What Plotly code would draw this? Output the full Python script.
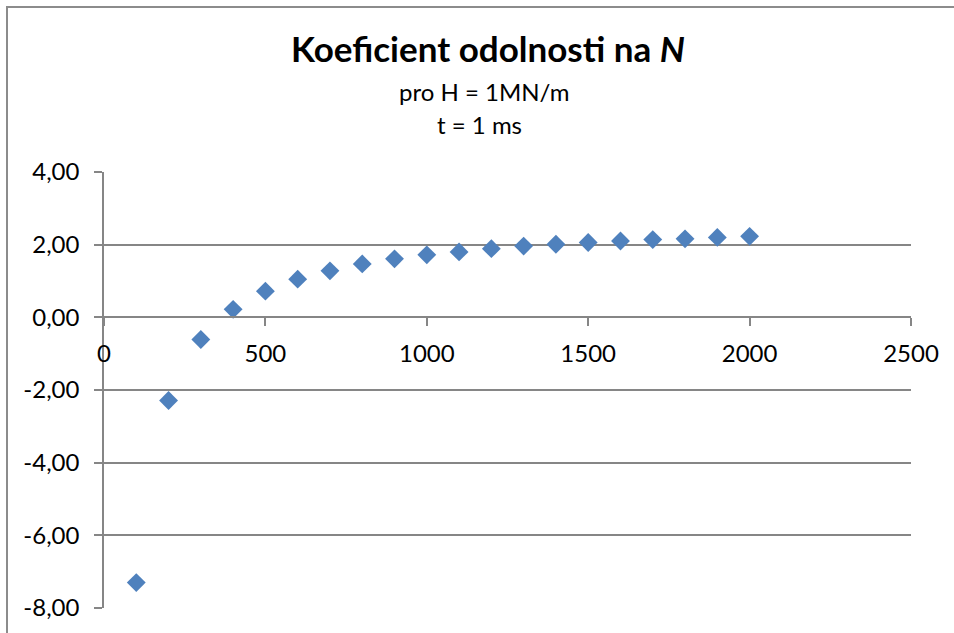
import plotly.graph_objects as go

# Data
n_values = [100, 200, 300, 400, 500, 600, 700, 800, 900, 1000,
            1100, 1200, 1300, 1400, 1500, 1600, 1700, 1800, 1900, 2000]
koeficient = [-7.30, -2.29, -0.61, 0.22, 0.72, 1.05, 1.28, 1.47, 1.61, 1.72,
              1.80, 1.89, 1.96, 2.01, 2.06, 2.10, 2.14, 2.16, 2.20, 2.23]

y_tick_values = [-8, -6, -4, -2, 0, 2, 4]
y_tick_labels = ["-8,00", "-6,00", "-4,00", "-2,00", "0,00", "2,00", "4,00"]

title_text = "<b>Koeficient odolnosti na <i>N</i></b>"
subtitle1 = "pro H = 1MN/m"
subtitle2 = "t = 1 ms"

x_range = [0, 2500]
y_range = [-8, 4]

W, H = 954, 633
ML, MR, MT, MB = 104, 43, 172, 25
PW = W - ML - MR
PH = H - MT - MB

def px_x(p):
    return (p - ML) / PW

def px_y(p):
    return (H - MB - p) / PH

GRAY = "#868686"
BLUE = "#4F81BD"
FONT = "Lato"

fig = go.Figure()
fig.add_trace(go.Scatter(
    x=n_values, y=koeficient, mode="markers",
    marker=dict(symbol="diamond", size=14.5, color=BLUE, line=dict(width=0)),
    showlegend=False, cliponaxis=False,
))

zero_pos = (0 - y_range[0]) / (y_range[1] - y_range[0])

fig.update_layout(
    width=W, height=H,
    margin=dict(l=ML, r=MR, t=MT, b=MB, pad=0),
    paper_bgcolor="white", plot_bgcolor="white",
    separators=",.",
    font=dict(family=FONT, size=24, color="black"),
    xaxis=dict(
        range=x_range, dtick=500, tick0=0, showgrid=False, zeroline=False,
        showline=True, linecolor=GRAY, linewidth=1.5,
        ticks="outside", ticklen=8, tickcolor=GRAY, tickwidth=1.5,
        anchor="free", position=zero_pos,
        tickfont=dict(family=FONT, size=24, color="black"),
        ticklabelstandoff=7,
    ),
    yaxis=dict(
        range=y_range, tickmode="array", tickvals=y_tick_values, ticktext=y_tick_labels,
        showgrid=True, gridcolor=GRAY, gridwidth=1.5, zeroline=False,
        showline=True, linecolor=GRAY, linewidth=1.5,
        ticks="outside", ticklen=8, tickcolor=GRAY, tickwidth=1.5,
        tickfont=dict(family=FONT, size=24, color="black"),
        ticklabelstandoff=10, domain=[0, 1],
    ),
    shapes=[dict(
        type="rect", xref="paper", yref="paper",
        x0=px_x(7), x1=px_x(1000), y0=px_y(7), y1=px_y(700),
        line=dict(color="#8c8c8c", width=2), fillcolor="rgba(0,0,0,0)", layer="below",
    )],
    annotations=[
        dict(text=title_text, xref="paper", yref="paper", x=px_x(488), y=px_y(48),
             xanchor="center", yanchor="middle", showarrow=False,
             font=dict(family=FONT, size=35, color="black")),
        dict(text=subtitle1, xref="paper", yref="paper", x=px_x(483.5), y=px_y(91),
             xanchor="center", yanchor="middle", showarrow=False,
             font=dict(family=FONT, size=24, color="black")),
        dict(text=subtitle2, xref="paper", yref="paper", x=px_x(479.5), y=px_y(125),
             xanchor="center", yanchor="middle", showarrow=False,
             font=dict(family=FONT, size=24, color="black")),
    ],
)

fig.write_html("out.html")
